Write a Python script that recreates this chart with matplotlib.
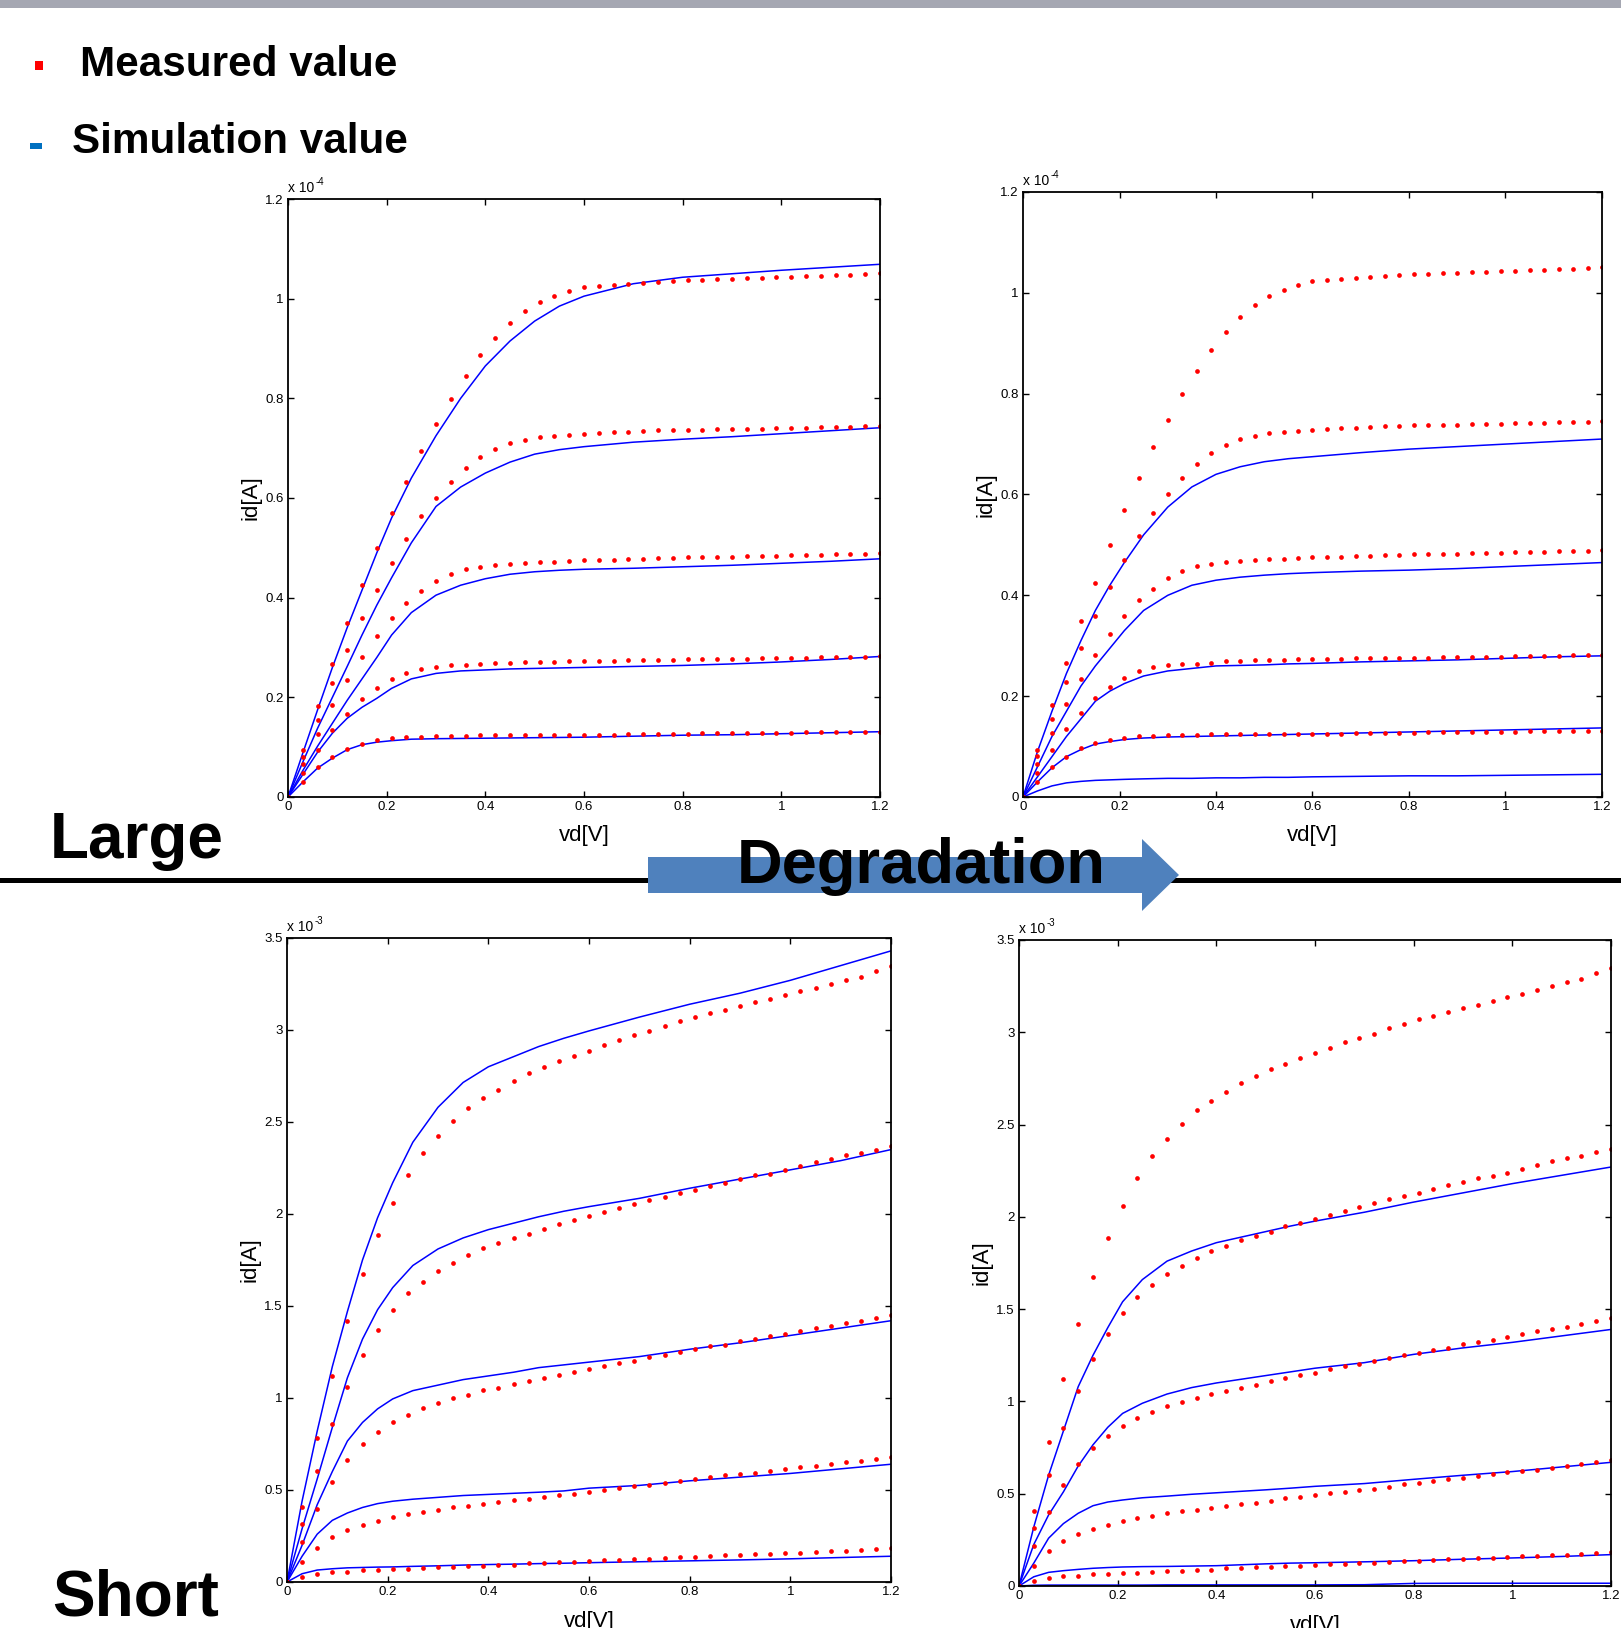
import matplotlib
matplotlib.use('Agg')
import matplotlib.pyplot as plt
from matplotlib.patches import Polygon, Rectangle
from matplotlib.lines import Line2D

plt.rcParams['font.family'] = ['Liberation Sans', 'DejaVu Sans']

W, H = 1621, 1628

# drain voltage grid of the measured points
vd_meas = [0, 0.03, 0.06, 0.09, 0.12, 0.15, 0.18, 0.21, 0.24, 0.27, 0.3, 0.33, 0.36, 0.39,
           0.42, 0.45, 0.48, 0.51, 0.54, 0.57, 0.6, 0.63, 0.66, 0.69, 0.72, 0.75, 0.78, 0.81,
           0.84, 0.87, 0.9, 0.93, 0.96, 0.99, 1.02, 1.05, 1.08, 1.11, 1.14, 1.17, 1.2]
# drain voltage grid of the simulated lines
vd_sim = [0, 0.03, 0.06, 0.09, 0.12, 0.15, 0.18, 0.21, 0.25, 0.3, 0.35, 0.4, 0.45, 0.5, 0.55,
          0.6, 0.7, 0.8, 0.9, 1.0, 1.1, 1.2]

# large device, measured (x1e-4 A)
large_m1 = [0, 0.094, 0.182, 0.266, 0.350, 0.425, 0.500, 0.569, 0.633, 0.694, 0.748, 0.799, 0.845, 0.886,
            0.922, 0.952, 0.976, 0.993, 1.006, 1.016, 1.023, 1.025, 1.028, 1.030, 1.032, 1.034, 1.036,
            1.037, 1.038, 1.039, 1.040, 1.041, 1.042, 1.043, 1.044, 1.045, 1.046, 1.047, 1.048, 1.050, 1.052]
large_m2 = [0, 0.081, 0.155, 0.228, 0.295, 0.359, 0.416, 0.470, 0.518, 0.563, 0.601, 0.633, 0.661, 0.683,
            0.698, 0.710, 0.717, 0.722, 0.724, 0.726, 0.728, 0.730, 0.732, 0.732, 0.734, 0.736, 0.736,
            0.737, 0.737, 0.738, 0.738, 0.739, 0.739, 0.740, 0.741, 0.741, 0.742, 0.743, 0.743, 0.744, 0.745]
large_m3 = [0, 0.066, 0.127, 0.184, 0.235, 0.281, 0.324, 0.359, 0.390, 0.413, 0.434, 0.448, 0.458, 0.462,
            0.466, 0.468, 0.470, 0.472, 0.472, 0.474, 0.476, 0.476, 0.476, 0.478, 0.478, 0.480, 0.480,
            0.481, 0.481, 0.482, 0.482, 0.483, 0.484, 0.484, 0.485, 0.485, 0.486, 0.487, 0.487, 0.488, 0.489]
large_m4 = [0, 0.048, 0.094, 0.134, 0.167, 0.196, 0.218, 0.237, 0.249, 0.257, 0.261, 0.264, 0.264, 0.266,
            0.269, 0.269, 0.271, 0.271, 0.271, 0.273, 0.273, 0.273, 0.273, 0.275, 0.275, 0.275, 0.275,
            0.276, 0.276, 0.277, 0.277, 0.277, 0.278, 0.278, 0.279, 0.279, 0.280, 0.280, 0.281, 0.281, 0.282]
large_m5 = [0, 0.030, 0.060, 0.080, 0.097, 0.107, 0.114, 0.118, 0.120, 0.120, 0.122, 0.122, 0.122, 0.124,
            0.124, 0.124, 0.124, 0.125, 0.125, 0.125, 0.125, 0.125, 0.125, 0.127, 0.127, 0.127, 0.127,
            0.127, 0.128, 0.128, 0.128, 0.129, 0.129, 0.129, 0.129, 0.130, 0.130, 0.130, 0.130, 0.131, 0.131]

# large device, simulation (fresh model, then degraded model)
large_s1 = [0, 0.088, 0.175, 0.26, 0.34, 0.415, 0.49, 0.56, 0.64, 0.725, 0.80, 0.865, 0.915, 0.955, 0.985,
            1.005, 1.03, 1.043, 1.05, 1.057, 1.063, 1.069]
large_s2 = [0, 0.07, 0.138, 0.20, 0.262, 0.325, 0.385, 0.44, 0.51, 0.583, 0.622, 0.65, 0.672, 0.688, 0.697,
            0.703, 0.712, 0.718, 0.723, 0.729, 0.735, 0.741]
large_s3 = [0, 0.053, 0.102, 0.148, 0.194, 0.237, 0.28, 0.325, 0.37, 0.405, 0.425, 0.438, 0.447, 0.452, 0.455,
            0.457, 0.459, 0.462, 0.465, 0.469, 0.473, 0.478]
large_s4 = [0, 0.045, 0.09, 0.128, 0.158, 0.18, 0.198, 0.218, 0.237, 0.248, 0.253, 0.255, 0.257, 0.258, 0.259,
            0.26, 0.262, 0.264, 0.267, 0.271, 0.276, 0.282]
large_s5 = [0, 0.03, 0.058, 0.078, 0.095, 0.105, 0.11, 0.113, 0.116, 0.117, 0.1175, 0.118, 0.1185, 0.119, 0.1195,
            0.12, 0.122, 0.124, 0.125, 0.127, 0.129, 0.131]

large_d1 = [0, 0.09, 0.17, 0.245, 0.31, 0.37, 0.42, 0.465, 0.52, 0.575, 0.615, 0.64, 0.655, 0.665, 0.671,
            0.675, 0.683, 0.69, 0.695, 0.70, 0.705, 0.71]
large_d2 = [0, 0.06, 0.12, 0.17, 0.22, 0.26, 0.295, 0.33, 0.37, 0.40, 0.42, 0.43, 0.436, 0.44, 0.443,
            0.445, 0.448, 0.45, 0.453, 0.457, 0.461, 0.465]
large_d3 = [0, 0.04, 0.08, 0.12, 0.155, 0.19, 0.21, 0.225, 0.24, 0.25, 0.255, 0.26, 0.261, 0.262, 0.264,
            0.265, 0.268, 0.27, 0.272, 0.275, 0.278, 0.28]
large_d4 = [0, 0.03, 0.058, 0.08, 0.094, 0.105, 0.11, 0.114, 0.117, 0.119, 0.12, 0.121, 0.122, 0.123, 0.124,
            0.125, 0.127, 0.129, 0.131, 0.133, 0.135, 0.137]
large_d5 = [0, 0.012, 0.022, 0.028, 0.031, 0.033, 0.034, 0.035, 0.036, 0.037, 0.037, 0.038, 0.038, 0.039, 0.039,
            0.040, 0.041, 0.042, 0.042, 0.043, 0.044, 0.045]

# short device, measured (x1e-3 A)
short_m1 = [0, 0.405, 0.782, 1.122, 1.419, 1.673, 1.885, 2.061, 2.212, 2.329, 2.423, 2.505, 2.577, 2.628,
            2.676, 2.723, 2.764, 2.800, 2.829, 2.858, 2.887, 2.917, 2.946, 2.971, 2.993, 3.023, 3.047,
            3.07, 3.09, 3.11, 3.13, 3.15, 3.17, 3.19, 3.21, 3.23, 3.25, 3.27, 3.29, 3.32, 3.35]
short_m2 = [0, 0.315, 0.604, 0.856, 1.059, 1.232, 1.367, 1.480, 1.568, 1.631, 1.689, 1.736, 1.779, 1.813,
            1.842, 1.872, 1.894, 1.919, 1.948, 1.966, 1.989, 2.011, 2.032, 2.054, 2.074, 2.095, 2.113,
            2.13, 2.15, 2.17, 2.19, 2.21, 2.22, 2.24, 2.26, 2.28, 2.30, 2.32, 2.33, 2.35, 2.37]
short_m3 = [0, 0.218, 0.399, 0.545, 0.662, 0.750, 0.815, 0.867, 0.910, 0.944, 0.975, 0.998, 1.016, 1.041,
            1.056, 1.074, 1.090, 1.110, 1.126, 1.144, 1.155, 1.173, 1.191, 1.203, 1.221, 1.236, 1.250,
            1.265, 1.28, 1.29, 1.31, 1.32, 1.335, 1.35, 1.365, 1.38, 1.39, 1.405, 1.42, 1.435, 1.45]
short_m4 = [0, 0.108, 0.187, 0.245, 0.282, 0.309, 0.333, 0.351, 0.369, 0.381, 0.394, 0.405, 0.412, 0.423,
            0.435, 0.446, 0.450, 0.462, 0.475, 0.480, 0.491, 0.502, 0.509, 0.520, 0.527, 0.538, 0.550,
            0.56, 0.57, 0.58, 0.585, 0.595, 0.605, 0.615, 0.625, 0.63, 0.64, 0.65, 0.66, 0.67, 0.68]
short_m5 = [0, 0.027, 0.041, 0.052, 0.056, 0.063, 0.063, 0.068, 0.068, 0.074, 0.081, 0.081, 0.088, 0.088,
            0.095, 0.095, 0.101, 0.101, 0.108, 0.108, 0.113, 0.119, 0.119, 0.124, 0.124, 0.131, 0.135,
            0.138, 0.141, 0.145, 0.148, 0.151, 0.154, 0.157, 0.16, 0.163, 0.166, 0.169, 0.172, 0.177, 0.185]

short_s1 = [0, 0.44, 0.82, 1.17, 1.47, 1.75, 1.98, 2.17, 2.39, 2.58, 2.715, 2.80, 2.855, 2.91, 2.955,
            2.995, 3.07, 3.14, 3.20, 3.27, 3.35, 3.43]
short_s2 = [0, 0.29, 0.56, 0.84, 1.11, 1.32, 1.48, 1.60, 1.72, 1.81, 1.87, 1.915, 1.95, 1.985, 2.015,
            2.04, 2.085, 2.14, 2.19, 2.24, 2.29, 2.35]
short_s3 = [0, 0.20, 0.42, 0.60, 0.766, 0.867, 0.941, 0.995, 1.04, 1.07, 1.10, 1.12, 1.14, 1.165, 1.18,
            1.195, 1.225, 1.265, 1.30, 1.34, 1.38, 1.42]
short_s4 = [0, 0.14, 0.26, 0.335, 0.375, 0.405, 0.426, 0.439, 0.45, 0.46, 0.47, 0.476, 0.482, 0.488, 0.495,
            0.51, 0.525, 0.55, 0.57, 0.59, 0.615, 0.64]
short_s5 = [0, 0.045, 0.065, 0.072, 0.077, 0.079, 0.081, 0.082, 0.085, 0.088, 0.092, 0.095, 0.097, 0.10, 0.102,
            0.105, 0.11, 0.115, 0.12, 0.126, 0.133, 0.14]

short_d1 = [0, 0.32, 0.60, 0.84, 1.08, 1.25, 1.40, 1.54, 1.66, 1.76, 1.815, 1.86, 1.89, 1.92, 1.95,
            1.977, 2.025, 2.08, 2.13, 2.18, 2.225, 2.27]
short_d2 = [0, 0.225, 0.385, 0.51, 0.65, 0.765, 0.86, 0.935, 0.99, 1.04, 1.075, 1.10, 1.12, 1.14, 1.16,
            1.18, 1.21, 1.255, 1.29, 1.32, 1.355, 1.39]
short_d3 = [0, 0.124, 0.259, 0.338, 0.394, 0.435, 0.455, 0.466, 0.478, 0.487, 0.497, 0.505, 0.513, 0.521, 0.53,
            0.54, 0.555, 0.578, 0.60, 0.62, 0.645, 0.67]
short_d4 = [0, 0.05, 0.074, 0.083, 0.09, 0.096, 0.1, 0.103, 0.105, 0.106, 0.108, 0.11, 0.115, 0.12, 0.124,
            0.126, 0.131, 0.137, 0.145, 0.152, 0.16, 0.17]
short_d5 = [0, 0.004, 0.005, 0.005, 0.005, 0.005, 0.005, 0.005, 0.005, 0.006, 0.006, 0.006, 0.006, 0.006, 0.006,
            0.006, 0.007, 0.014, 0.015, 0.015, 0.015, 0.015]

large_meas = [large_m1, large_m2, large_m3, large_m4, large_m5]
short_meas = [short_m1, short_m2, short_m3, short_m4, short_m5]

xticks = [0, 0.2, 0.4, 0.6, 0.8, 1, 1.2]
xtick_labels = ['0', '0.2', '0.4', '0.6', '0.8', '1', '1.2']
large_yticks = [0, 0.2, 0.4, 0.6, 0.8, 1, 1.2]
large_ylabels = ['0', '0.2', '0.4', '0.6', '0.8', '1', '1.2']
short_yticks = [0, 0.5, 1, 1.5, 2, 2.5, 3, 3.5]
short_ylabels = ['0', '0.5', '1', '1.5', '2', '2.5', '3', '3.5']

fig = plt.figure(figsize=(W / 100, H / 100), dpi=100)
fig.patch.set_facecolor('white')


def px_rect(left, top, right, bottom):
    return [left / W, 1 - bottom / H, (right - left) / W, (bottom - top) / H]


def panel(box, meas, sims, yticks, ylabels, exponent):
    left, top, right, bottom = box
    w_px, h_px = right - left, bottom - top
    ax = fig.add_axes(px_rect(*box))
    for s in sims:
        ax.plot(vd_sim, s, color='#0000ff', lw=1.1)
    for m in meas:
        ax.plot(vd_meas, m, 'o', color='#ff0000', ms=3.4, mew=0)
    ax.set_xlim(0, 1.2)
    ax.set_ylim(yticks[0], yticks[-1])
    ax.set_xticks(xticks)
    ax.set_xticklabels(xtick_labels)
    ax.set_yticks(yticks)
    ax.set_yticklabels(ylabels)
    ax.tick_params(direction='in', top=True, right=True, length=4, width=1,
                   labelsize=9.5, pad=3)
    for sp in ax.spines.values():
        sp.set_linewidth(1.3)
    ax.set_xlabel('vd[V]', fontsize=16)
    ax.set_ylabel('id[A]', fontsize=16)
    ax.xaxis.label.set_va('center')
    ax.yaxis.label.set_va('center')
    ax.xaxis.set_label_coords(0.5, -39 / h_px)
    ax.yaxis.set_label_coords(-37 / w_px, 0.5)
    ax.text(0.0, 1.006, 'x 10', transform=ax.transAxes, ha='left', va='bottom', fontsize=10)
    ax.text(28 / w_px, 1.006 + 8 / h_px, exponent, transform=ax.transAxes,
            ha='left', va='bottom', fontsize=7)
    return ax


panel((288, 199, 880, 797), large_meas,
      [large_s1, large_s2, large_s3, large_s4, large_s5], large_yticks, large_ylabels, '-4')
panel((1023, 192, 1602, 797), large_meas,
      [large_d1, large_d2, large_d3, large_d4, large_d5], large_yticks, large_ylabels, '-4')
panel((287, 938, 891, 1582), short_meas,
      [short_s1, short_s2, short_s3, short_s4, short_s5], short_yticks, short_ylabels, '-3')
panel((1019, 940, 1611, 1586), short_meas,
      [short_d1, short_d2, short_d3, short_d4, short_d5], short_yticks, short_ylabels, '-3')

# slide decorations
fig.patches.append(Rectangle((0, 1 - 8 / H), 1, 8 / H, transform=fig.transFigure,
                             facecolor='#a5a7b2', edgecolor='none'))
fig.lines.append(Line2D([0, 1], [1 - 879.5 / H] * 2, transform=fig.transFigure,
                        color='black', lw=3.6, zorder=1))
arrow_pts = [(648, 857), (1142, 857), (1142, 839), (1179, 875), (1142, 911), (1142, 893), (648, 893)]
fig.patches.append(Polygon([(x / W, 1 - y / H) for x, y in arrow_pts], closed=True,
                           transform=fig.transFigure, facecolor='#4f81bd', edgecolor='none', zorder=2))

big = dict(family=['Liberation Sans', 'DejaVu Sans'], weight='bold', color='black')
fig.text(921 / W, 1 - 883 / H, 'Degradation', ha='center', va='baseline', fontsize=45.5, zorder=3, **big)
fig.text(50 / W, 1 - 858 / H, 'Large', ha='left', va='baseline', fontsize=46, **big)
fig.text(52 / W, 1 - 1615 / H, 'Short', ha='left', va='baseline', fontsize=46, **big)

fig.text(80 / W, 1 - 65.5 / H, 'Measured value', ha='left', va='center', fontsize=30.4, **big)
fig.text(72 / W, 1 - 142 / H, 'Simulation value', ha='left', va='center', fontsize=30.4, **big)
fig.patches.append(Rectangle((35 / W, 1 - 70 / H), 8 / W, 9 / H, transform=fig.transFigure,
                             facecolor='#ff0000', edgecolor='none'))
fig.patches.append(Rectangle((30 / W, 1 - 149 / H), 12 / W, 6 / H, transform=fig.transFigure,
                             facecolor='#0070c0', edgecolor='none'))

fig.savefig('out.png', dpi=100)
